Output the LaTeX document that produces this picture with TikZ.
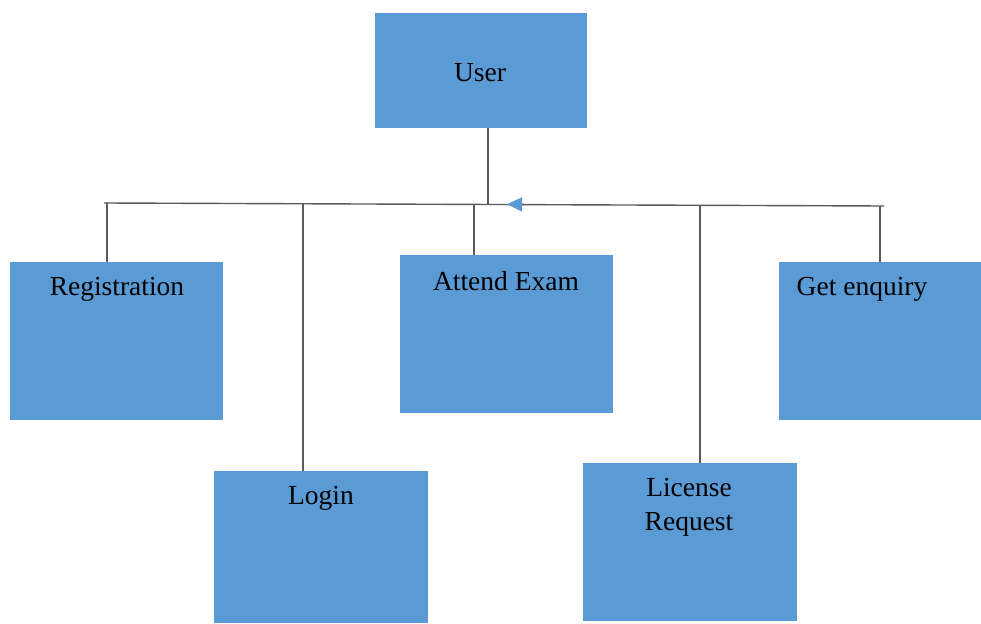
\documentclass[tikz,border=0pt]{standalone}
\usepackage{fontspec}
\setmainfont{Liberation Serif}
\usetikzlibrary{arrows.meta}
\definecolor{boxblue}{HTML}{5B9BD5}
\definecolor{linegray}{HTML}{5A5A5A}
\tikzset{
  box/.style={rectangle, fill=boxblue, draw=none, inner sep=0pt},
  boxtext/.style={font=\fontsize{27.5}{34}\selectfont, text=black, align=center},
  wire/.style={draw=linegray, line width=1.4pt},
}

\begin{document}
\begin{tikzpicture}[x=1pt,y=-1pt]
            \useasboundingbox[fill=white] (0,0) rectangle (981,623);
            % boxes
            \node[box, minimum width=212, minimum height=115] (user) at (481,70.5) {};
            \node[box, minimum width=213, minimum height=158] (reg) at (116.5,341) {};
            \node[box, minimum width=214, minimum height=152] (login) at (321,547) {};
            \node[box, minimum width=213, minimum height=158] (exam) at (506.5,334) {};
            \node[box, minimum width=214, minimum height=158] (lic) at (690,542) {};
            \node[box, minimum width=202, minimum height=158] (enq) at (880,341) {};
            % texts
            \node[boxtext] (usert) at (480,73) {User};
            \node[boxtext] (regt) at (117,289) {Registration};
            \node[boxtext] (logint) at (321,498) {Login};
            \node[boxtext] (examt) at (506,281) {Attend Exam};
            \node[boxtext] (lict) at (689,507) {License\\Request};
            \node[boxtext] (enqt) at (862,289) {Get enquiry};
            % bar
            \coordinate (bL) at (104,203);
            \coordinate (bR) at (884,206);
            \coordinate (bU) at (488,204);
            \coordinate (bA) at (507,204.3);
            \coordinate (d1) at (107,203);
            \coordinate (d2) at (303,203.5);
            \coordinate (d3) at (474,204);
            \coordinate (d4) at (700,205.5);
            \coordinate (d5) at (880,206);
            \draw[wire] (bL) -- (bR);
            \draw[wire] (user.south -| bU) -- (bU);
            \draw[wire, -{Triangle[color=boxblue, fill=boxblue, length=15pt, width=14pt]}]
                (524,204.4) -- (bA);
            \draw[wire] (d1) -- (d1 |- reg.north);
            \draw[wire] (d2) -- (d2 |- login.north);
            \draw[wire] (d3) -- (d3 |- exam.north);
            \draw[wire] (d4) -- (d4 |- lic.north);
            \draw[wire] (d5) -- (d5 |- enq.north);
        \end{tikzpicture}
\end{document}
